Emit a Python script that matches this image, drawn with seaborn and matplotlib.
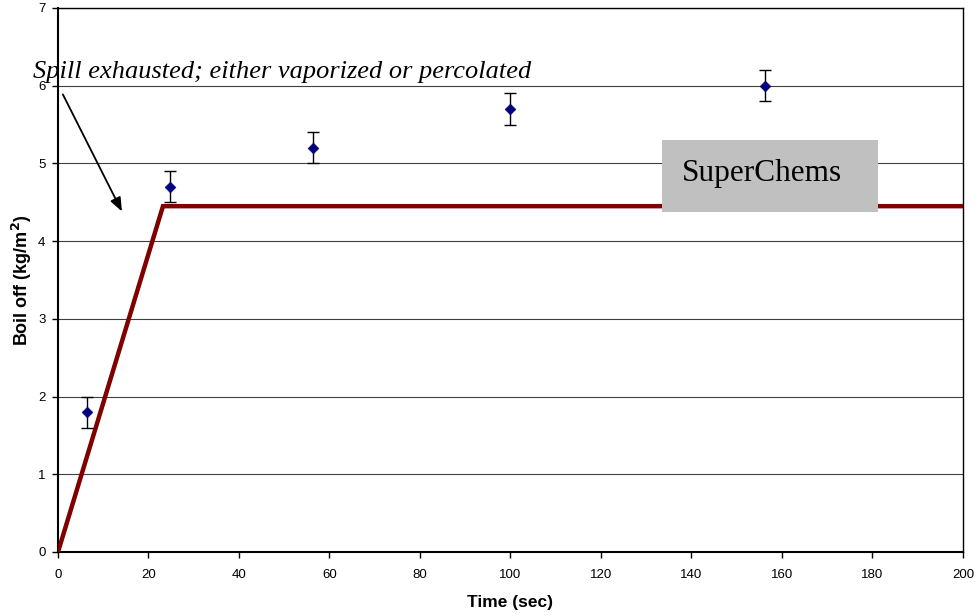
import numpy as np
import pandas as pd
import matplotlib
matplotlib.use('Agg')
import matplotlib.pyplot as plt
import seaborn as sns

# measured boil off with error bars
time_meas = [6.3, 24.8, 56.3, 100.0, 156.3]
boil_meas = [1.8, 4.7, 5.2, 5.7, 6.0]
boil_err = [0.2, 0.2, 0.2, 0.2, 0.2]

# SuperChems model curve
time_model = [0.0, 23.2, 200.0]
boil_model = [0.0, 4.45, 4.45]

x_ticks = [0, 20, 40, 60, 80, 100, 120, 140, 160, 180, 200]
y_ticks = [0, 1, 2, 3, 4, 5, 6, 7]

sns.set_style('white')
plt.rcParams['font.family'] = ['Liberation Sans', 'DejaVu Sans']
plt.rcParams['text.color'] = 'black'
plt.rcParams['axes.labelcolor'] = 'black'

fig = plt.figure(figsize=(9.79, 6.16), dpi=100)
ax = fig.add_axes([58 / 979, 1 - 552 / 616, (963 - 58) / 979, (552 - 8) / 616])

df_model = pd.DataFrame({'t': time_model, 'b': boil_model})
df_meas = pd.DataFrame({'t': time_meas, 'b': boil_meas, 'e': boil_err})

for y in y_ticks[1:]:
    ax.axhline(y, color='#404040', lw=0.8, zorder=1)

sns.lineplot(data=df_model, x='t', y='b', ax=ax, color='#800000', lw=3.2,
             zorder=3, solid_joinstyle='miter')
ax.errorbar(df_meas['t'], df_meas['b'], yerr=df_meas['e'], fmt='none',
            ecolor='black', elinewidth=1, capsize=4, capthick=1, zorder=4)
sns.scatterplot(data=df_meas, x='t', y='b', ax=ax, marker='D', s=30,
                color='#000080', edgecolor='#000080', zorder=5)

ax.set_xlim(0, 200)
ax.set_ylim(0, 7)
ax.set_xticks(x_ticks)
ax.set_yticks(y_ticks)
ax.tick_params(axis='both', labelsize=9.5, length=4, width=1, direction='out',
               colors='black', bottom=True, left=True)
ax.tick_params(axis='x', pad=8)
ax.tick_params(axis='y', pad=5)
for s in ax.spines.values():
    s.set_color('black')
    s.set_linewidth(1)
ax.spines['left'].set_linewidth(1.5)
ax.spines['bottom'].set_linewidth(1.5)

ax.set_xlabel('Time (sec)', fontsize=12.5, fontweight='bold', labelpad=10)
ax.set_ylabel('Boil off (kg/m$^\\mathbf{2}$)', fontsize=13, fontweight='bold', labelpad=3)

# annotation with arrow
ax.annotate('', xy=(14.4, 4.35), xytext=(0.8, 5.92),
            arrowprops=dict(arrowstyle='-|>,head_width=0.3,head_length=0.75',
                            color='black', lw=1.3, mutation_scale=11),
            annotation_clip=False)
fig.text(33 / 979, 1 - 72 / 616, 'Spill exhausted; either vaporized or percolated',
         family='Liberation Serif', style='italic', fontsize=19,
         va='center', ha='left', color='black')

# label box
ax.add_patch(plt.Rectangle((133.5, 4.376), 47.7, 0.925, facecolor='#C0C0C0',
                           edgecolor='none', zorder=6))
ax.text(137.9, 4.775, 'SuperChems', family='Liberation Serif', fontsize=22.5,
        ha='left', va='baseline', zorder=7, color='black')

fig.savefig('out.png', dpi=100)
